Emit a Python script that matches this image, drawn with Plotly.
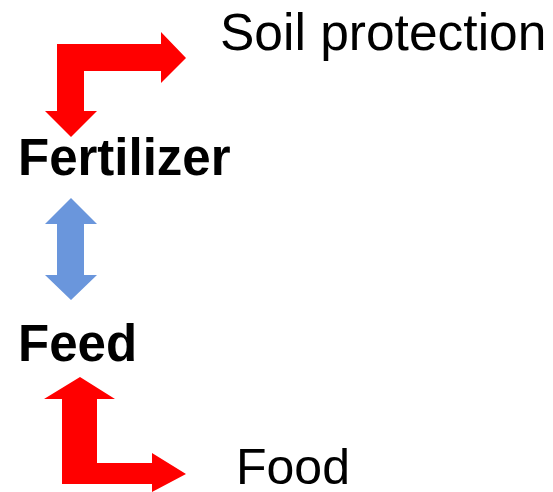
import plotly.graph_objects as go

# Node labels
labels = ["Soil protection", "Fertilizer", "Feed", "Food"]
label_x = [218, 16, 16, 234]
label_y = [32, 157, 343, 467]
label_bold = [False, True, True, False]
label_size = [51.5, 51, 51, 50]

# Arrow outlines (pixel coordinates of diagram)
arrow_top_x = [57, 161, 161, 186, 161, 161, 84, 84, 97, 71, 45, 57, 57]
arrow_top_y = [44, 44, 32, 58, 83, 71, 71, 111, 111, 137, 111, 111, 44]

arrow_mid_x = [71, 97, 84, 84, 97, 71, 45, 57, 57, 45, 71]
arrow_mid_y = [198, 224, 224, 275, 275, 300, 275, 275, 224, 224, 198]

arrow_bot_x = [80, 115, 97, 97, 152, 152, 186, 152, 152, 62, 62, 44, 80]
arrow_bot_y = [377, 399, 399, 463, 463, 453, 474, 492, 484, 484, 399, 399, 377]

arrows = [
    (arrow_top_x, arrow_top_y, "#FF0000"),
    (arrow_mid_x, arrow_mid_y, "#6A96DC"),
    (arrow_bot_x, arrow_bot_y, "#FF0000"),
]

fig = go.Figure()
for ax, ay, col in arrows:
    fig.add_trace(go.Scatter(x=ax, y=ay, mode="lines", fill="toself",
                             fillcolor=col, line=dict(color=col, width=0),
                             hoverinfo="skip", showlegend=False))

for t, x, y, b, s in zip(labels, label_x, label_y, label_bold, label_size):
    fig.add_annotation(x=x, y=y, xref="x", yref="y", text=f"<b>{t}</b>" if b else t,
                       showarrow=False, xanchor="left", yanchor="middle",
                       font=dict(family="Liberation Sans, Arial, sans-serif", size=s,
                                 color="black"))

fig.update_layout(width=553, height=492, margin=dict(l=0, r=0, t=0, b=0),
                  paper_bgcolor="white", plot_bgcolor="white",
                  xaxis=dict(range=[0, 553], visible=False, fixedrange=True),
                  yaxis=dict(range=[492, 0], visible=False, fixedrange=True))
fig.write_html("out.html", config={"displayModeBar": False},
               post_script="document.body.style.margin='0';document.body.style.overflow='hidden';")
